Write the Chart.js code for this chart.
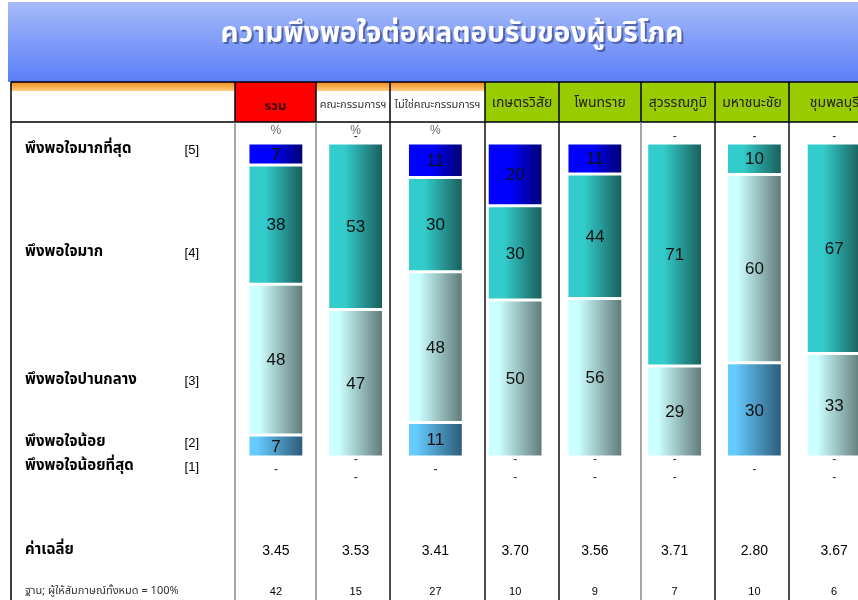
<!DOCTYPE html>
<html>
<head>
<meta charset="utf-8">
<script src="https://cdn.jsdelivr.net/npm/chart.js@4.4.1/dist/chart.umd.min.js"></script>
<style>
  html, body { margin: 0; padding: 0; overflow: hidden; background: #fff; }
  #wrap { width: 880px; height: 600px; }
</style>
</head>
<body>
<div id="wrap"><canvas id="myChart" width="880" height="600"></canvas></div>
<script>
// --- data ---
var title = 'ความพึงพอใจต่อผลตอบรับของผู้บริโภค';
var groups = ['รวม', 'คณะกรรมการฯ', 'ไม่ใช่คณะกรรมการฯ', 'เกษตรวิสัย', 'โพนทราย', 'สุวรรณภูมิ', 'มหาชนะชัย', 'ชุมพลบุรี'];
var levelNames = ['พึงพอใจมากที่สุด', 'พึงพอใจมาก', 'พึงพอใจปานกลาง', 'พึงพอใจน้อย', 'พึงพอใจน้อยที่สุด'];
var levelCodes = ['[5]', '[4]', '[3]', '[2]', '[1]'];
var level5 = [7, 0, 11, 20, 11, 0, 0, 0];
var level4 = [38, 53, 30, 30, 44, 71, 10, 67];
var level3 = [48, 47, 48, 50, 56, 29, 60, 33];
var level2 = [7, 0, 11, 0, 0, 0, 30, 0];
var level1 = [0, 0, 0, 0, 0, 0, 0, 0];
var means = [3.45, 3.53, 3.41, 3.70, 3.56, 3.71, 2.80, 3.67];
var bases = [42, 15, 27, 10, 9, 7, 10, 6];
var meanLabel = 'ค่าเฉลี่ย';
var baseLabel = 'ฐาน; ผู้ให้สัมภาษณ์ทั้งหมด = 100%';

// --- look ---
var THAI = '"Noto Sans Thai", Tahoma, "Noto Sans", "DejaVu Sans", sans-serif';
var NUM = '"Liberation Sans Narrow", "Liberation Sans", Arial, sans-serif';
var BAR_PCT = 0.7;
var edges = [11, 235, 316, 390, 485, 559, 641, 715, 789, 880]; // table column lines
var edgeColors = ['#000', '#888', '#888', '#111', '#111', '#111', '#888', '#111', '#111'];

// each column is shown as 100%
var series = [level1, level2, level3, level4, level5];
var totals = groups.map(function (g, i) {
  return series.reduce(function (s, arr) { return s + arr[i]; }, 0);
});
function pct(arr) {
  return arr.map(function (v, i) { return v / totals[i] * 100; });
}

function grad(c0, c1, stop) {
  return function (ctx) {
    var chart = ctx.chart, xs = chart.scales && chart.scales.x;
    if (!xs || ctx.dataIndex === undefined) return c0;
    var cx = xs.getPixelForValue(ctx.dataIndex);
    var w = xs.width / groups.length * BAR_PCT;
    if (!isFinite(cx) || !isFinite(w) || w <= 0) return c0;
    var g = chart.ctx.createLinearGradient(cx - w / 2, 0, cx + w / 2, 0);
    g.addColorStop(0, c0);
    g.addColorStop(stop, c0);
    g.addColorStop(1, c1);
    return g;
  };
}

function ds(label, raw, c0, c1, stop) {
  return {
    label: label,
    data: pct(raw),
    rawValues: raw,
    backgroundColor: grad(c0, c1, stop),
    borderColor: '#ffffff',
    borderWidth: function (ctx) { return ctx.raw > 0 ? 1.5 : 0; },
    borderSkipped: false
  };
}

var tablePlugin = {
  id: 'table',
  beforeDraw: function (chart) {
    var c = chart.ctx;
    c.save();
    c.fillStyle = '#fff';
    c.fillRect(0, 0, chart.width, chart.height);

    // banner
    var bg = c.createLinearGradient(0, 2, 0, 82);
    bg.addColorStop(0, '#a6baf8');
    bg.addColorStop(1, '#5a7ef8');
    c.fillStyle = bg;
    c.fillRect(8, 2, 872, 80);
    c.font = 'bold 28px ' + THAI;
    c.textAlign = 'center';
    c.textBaseline = 'middle';
    c.fillStyle = 'rgba(40,50,110,0.55)';
    c.fillText(title, 454, 38);
    c.fillStyle = '#fff';
    c.fillText(title, 452, 36);

    // header cells
    var orange = c.createLinearGradient(0, 82, 0, 91);
    orange.addColorStop(0, '#f08a1c');
    orange.addColorStop(1, '#ffcf80');
    c.fillStyle = orange;
    c.fillRect(edges[0], 82, edges[1] - edges[0], 9);
    for (var i = 0; i < groups.length; i++) {
      var x0 = edges[i + 1], x1 = edges[i + 2];
      if (i === 0) {
        c.fillStyle = '#ff0000';
        c.fillRect(x0, 82, x1 - x0, 40);
      } else if (i < 3) {
        c.fillStyle = orange;
        c.fillRect(x0, 82, x1 - x0, 9);
      } else {
        c.fillStyle = '#99cc00';
        c.fillRect(x0, 82, x1 - x0, 40);
      }
      var cx = (x0 + x1) / 2;
      if (i === 0) {
        c.font = 'bold 13px ' + THAI; c.fillStyle = '#3a0000'; c.fillText(groups[i], cx, 107);
      } else if (i < 3) {
        c.font = '11px ' + THAI; c.fillStyle = '#333'; c.fillText(groups[i], cx, 106);
      } else {
        c.font = '14px ' + THAI; c.fillStyle = '#222'; c.fillText(groups[i], cx, 104);
      }
    }

    // lines
    c.lineWidth = 1.5;
    c.strokeStyle = '#000';
    c.beginPath();
    c.moveTo(edges[0], 82); c.lineTo(880, 82);
    c.moveTo(edges[0], 122); c.lineTo(880, 122);
    c.stroke();
    for (var k = 0; k < edges.length - 1; k++) {
      c.strokeStyle = '#000';
      c.beginPath(); c.moveTo(edges[k], 82); c.lineTo(edges[k], 122); c.stroke();
      c.strokeStyle = edgeColors[k];
      c.beginPath(); c.moveTo(edges[k], 122); c.lineTo(edges[k], 600); c.stroke();
    }

    // row labels
    var rowY = [150, 253, 381, 443, 467];
    c.textBaseline = 'middle';
    for (var r = 0; r < levelNames.length; r++) {
      c.fillStyle = '#000';
      c.textAlign = 'left';
      c.font = 'bold 15px ' + THAI;
      c.fillText(levelNames[r], 25, rowY[r]);
      c.textAlign = 'right';
      c.font = '13px ' + NUM;
      c.fillText(levelCodes[r], 199, rowY[r]);
    }
    c.textAlign = 'left';
    c.font = 'bold 15px ' + THAI;
    c.fillText(meanLabel, 25, 551);
    c.font = '11px ' + THAI;
    c.fillStyle = '#333';
    c.fillText(baseLabel, 25, 592);
    c.restore();
  },
  afterDatasetsDraw: function (chart) {
    var c = chart.ctx, xs = chart.scales.x;
    c.save();
    c.textAlign = 'center';
    c.textBaseline = 'middle';
    c.fillStyle = '#111';
    c.font = '17px ' + NUM;
    chart.data.datasets.forEach(function (d, di) {
      chart.getDatasetMeta(di).data.forEach(function (bar, i) {
        var v = d.rawValues[i];
        if (!v) return;
        c.fillText(String(v), bar.x, (bar.y + bar.base) / 2 + 1);
      });
    });

    c.font = '12px ' + NUM;
    c.fillStyle = '#222';
    groups.forEach(function (g, i) {
      var x = xs.getPixelForValue(i);
      if (i < 3) { c.fillStyle = '#666'; c.fillText('%', x, 131); c.fillStyle = '#222'; }
      if (!level5[i]) c.fillText('-', x, 137);
      if (!level2[i]) c.fillText('-', x, 460);
      if (!level1[i]) c.fillText('-', x, level2[i] ? 470 : 478);
    });

    c.fillStyle = '#000';
    groups.forEach(function (g, i) {
      var x = xs.getPixelForValue(i);
      c.font = '14px ' + NUM;
      c.fillText(means[i].toFixed(2), x, 551);
      c.font = '11px ' + NUM;
      c.fillText(String(bases[i]), x, 592);
    });
    c.restore();
  }
};

var ctx = document.getElementById('myChart').getContext('2d');
var myChart = new Chart(ctx, {
  type: 'bar',
  data: {
    labels: groups,
    datasets: [
      ds(levelNames[4], level1, '#99ccff', '#335577', 0.1),
      ds(levelNames[3], level2, '#66ccff', '#2c5876', 0.15),
      ds(levelNames[2], level3, '#ccffff', '#5e7775', 0.2),
      ds(levelNames[1], level4, '#33cccc', '#195b57', 0.3),
      ds(levelNames[0], level5, '#0000ff', '#00006e', 0.4)
    ]
  },
  options: {
    responsive: false,
    animation: false,
    layout: { padding: { left: 236, right: 6, top: 143, bottom: 143 } },
    datasets: { bar: { categoryPercentage: 1, barPercentage: BAR_PCT } },
    plugins: { legend: { display: false }, tooltip: { enabled: false } },
    scales: {
      x: { display: false, stacked: true },
      y: { display: false, stacked: true, min: 0, max: 100 }
    }
  },
  plugins: [tablePlugin]
});
</script>
</body>
</html>
